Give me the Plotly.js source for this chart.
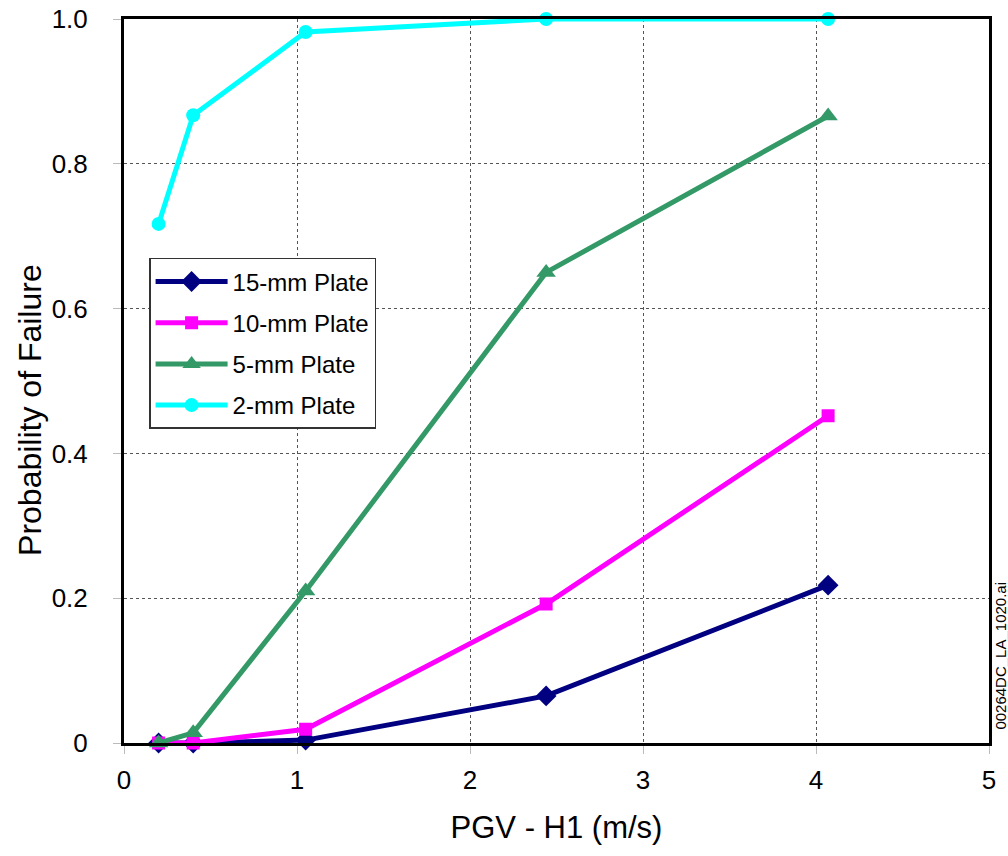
<!DOCTYPE html>
<html>
<head>
<meta charset="utf-8">
<script src="https://cdn.plot.ly/plotly-3.0.1.min.js"></script>
<style>html,body{margin:0;padding:0;background:#fff;}#chart{width:1008px;height:856px;}</style>
</head>
<body>
<div id="chart"></div>
<script>
const pgv = [0.2, 0.4, 1.05, 2.44, 4.07];
const plate15 = [0, 0, 0.004, 0.065, 0.218];
const plate10 = [0, 0, 0.019, 0.192, 0.452];
const plate5 = [0, 0.014, 0.21, 0.65, 0.866];
const plate2 = [0.717, 0.867, 0.982, 1.0, 1.0];
const seriesNames = ['15-mm Plate', '10-mm Plate', '5-mm Plate', '2-mm Plate'];
const xTicks = [0, 1, 2, 3, 4, 5];
const yTicks = [0, 0.2, 0.4, 0.6, 0.8, 1.0];
const yTickText = ['0', '0.2', '0.4', '0.6', '0.8', '1.0'];
const xTitle = 'PGV - H1 (m/s)';
const yTitle = 'Probability of Failure';
const fileTag = '00264DC_LA_1020.ai';

const styles = [
  {color: '#000080', symbol: 'diamond', size: 16},
  {color: '#FF00FF', symbol: 'square', size: 13},
  {color: '#339966', symbol: 'triangle-up', size: 17},
  {color: '#00FFFF', symbol: 'circle', size: 14}
];
const ys = [plate15, plate10, plate5, plate2];
const traces = ys.map((y, i) => ({
  x: pgv, y: y, name: seriesNames[i], type: 'scatter', mode: 'lines+markers',
  legendgroup: 'g' + i,
  cliponaxis: false,
  line: {color: styles[i].color, width: 5},
  marker: {color: styles[i].color, symbol: styles[i].symbol, size: styles[i].size}
}));

const layout = {
  width: 1008, height: 856,
  margin: {l: 124, r: 19, t: 19, b: 113},
  paper_bgcolor: '#ffffff', plot_bgcolor: '#ffffff',
  font: {family: 'Liberation Sans', color: '#000', size: 24},
  showlegend: true,
  legend: {
    x: 0.029, y: 0.67, xanchor: 'left', yanchor: 'top',
    bgcolor: '#ffffff', bordercolor: '#333', borderwidth: 1.5,
    font: {size: 24, color: '#000'}, tracegroupgap: 7, itemwidth: 72
  },
  xaxis: {
    range: [0, 5], tickvals: xTicks, ticktext: xTicks.map(String),
    showline: true, linecolor: '#000', linewidth: 3, mirror: true,
    showgrid: true, gridcolor: '#555', griddash: '3px,3px', gridwidth: 1,
    zeroline: false, ticks: 'outside', ticklen: 8, tickcolor: '#bbb', tickwidth: 1,
    tickfont: {size: 26}, ticklabelstandoff: 4,
    title: {text: xTitle, font: {size: 31}, standoff: 23}
  },
  yaxis: {
    range: [0, 1], tickvals: yTicks, ticktext: yTickText,
    showline: true, linecolor: '#000', linewidth: 3, mirror: true,
    showgrid: true, gridcolor: '#555', griddash: '3px,3px', gridwidth: 1,
    zeroline: false, ticks: 'outside', ticklen: 8, tickcolor: '#bbb', tickwidth: 1,
    tickfont: {size: 26}, ticklabelstandoff: 20
  },
  annotations: [
    {
      text: yTitle, xref: 'paper', yref: 'paper',
      x: 0, y: 0.46, xanchor: 'center', yanchor: 'middle', xshift: -94,
      textangle: -90, showarrow: false, font: {size: 32, color: '#000'}
    },
    {
      text: fileTag, xref: 'paper', yref: 'paper',
      x: 1, y: 0.12, xanchor: 'left', yanchor: 'middle', xshift: 1,
      textangle: -90, showarrow: false, font: {size: 15, color: '#000'}
    }
  ]
};

Plotly.newPlot('chart', traces, layout, {displayModeBar: false, responsive: false});
</script>
</body>
</html>
